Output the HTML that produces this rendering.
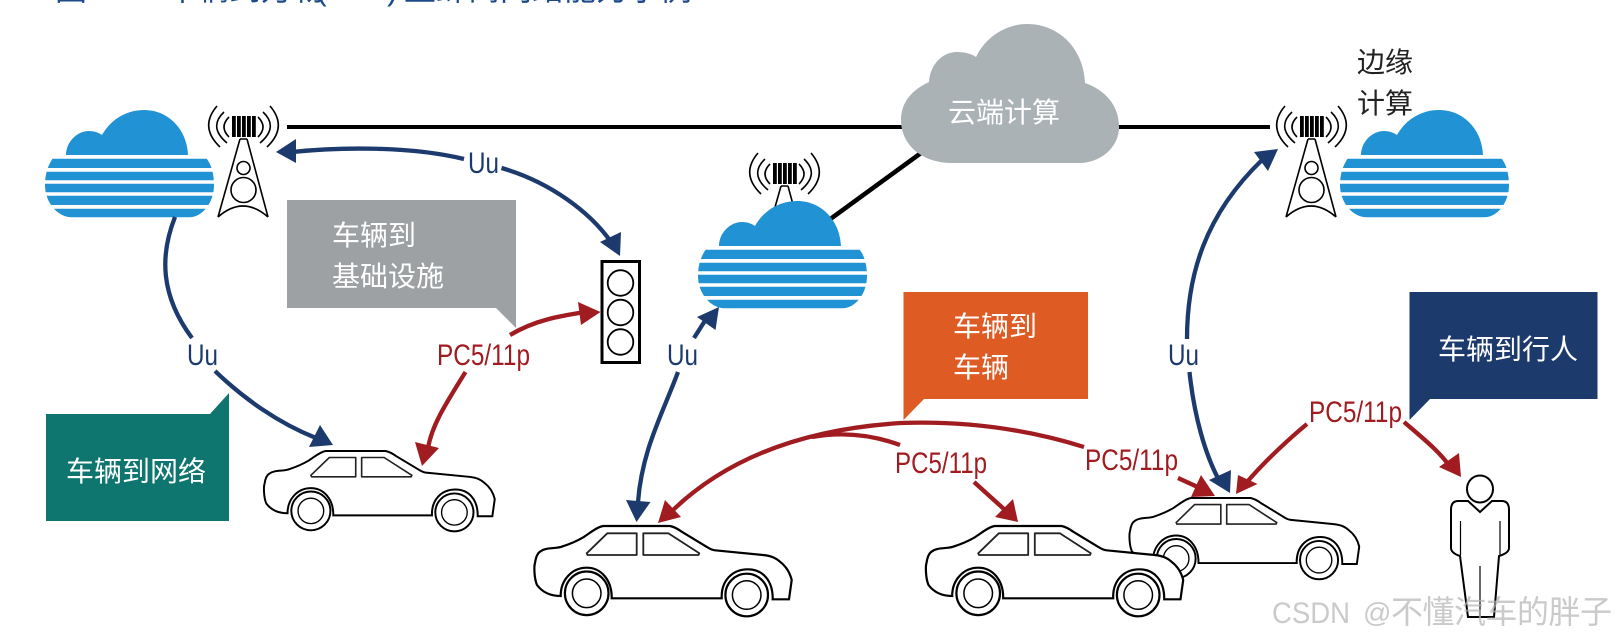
<!DOCTYPE html>
<html><head><meta charset="utf-8"><style>
html,body{margin:0;padding:0;background:#fff;width:1616px;height:640px;overflow:hidden}
svg{display:block}
text{font-family:"Liberation Sans","Noto Sans CJK SC",sans-serif}
.w{fill:#fff;font-size:28px}
.n{fill:#1c3a6e;font-size:30px}
.r{fill:#a01c20;font-size:30px}
.nl{fill:none;stroke:#1c3a6e;stroke-width:4.300}
.rl{fill:none;stroke:#a01c20;stroke-width:4.300}
.nh{fill:#1c3a6e}.rh{fill:#a01c20}
</style></head><body>
<svg width="1616" height="640" viewBox="0 0 1616 640" xmlns="http://www.w3.org/2000/svg">
<defs>
<clipPath id="st"><rect x="0" y="48.700" width="170" height="9.300"/><rect x="0" y="61.700" width="170" height="8.600"/><rect x="0" y="73.700" width="170" height="8.600"/><rect x="0" y="85.700" width="170" height="9.300"/><rect x="0" y="98.700" width="170" height="8.600"/></clipPath>
<clipPath id="upper"><rect x="700" y="140" width="170" height="67"/></clipPath>
<symbol id="cloud" overflow="visible">
<path d="M21,45C21,32 32,21 44,21C50,21 54,23 57,25C66,9 82,0 99,0C124,0 142,20 143,45Z" fill="#2192d3"/>
<path clip-path="url(#st)" d="M8,48L161,48C165,52 169,62 169,75C169,92 158,107.500 143,107.500L28,107.500C12,107.500 0,92 0,75C0,62 4,54 8,48Z" fill="#2192d3"/>
</symbol>
<symbol id="tower" overflow="visible">
<g fill="none" stroke="#000" stroke-width="1.600">
<path d="M217,106Q199,127 220,147M224,112Q208,127 227,143M229,117Q219,127 229,137"/>
<path d="M270,106Q288,127 267,147M263,112Q279,127 260,143M258,117Q268,127 258,137"/>
<path d="M240,139L218,217M247,139L268,217M240,139H247M218,217Q243,195 268,217"/>
<circle cx="243.500" cy="168" r="6.500"/><circle cx="243.500" cy="190" r="12.500"/>
</g>
<g fill="#000"><rect x="232" y="116" width="3.800" height="21"/><rect x="237" y="116" width="3.800" height="21"/><rect x="242" y="116" width="3.800" height="21"/><rect x="247" y="116" width="3.800" height="21"/><rect x="252" y="116" width="3.800" height="21"/></g>
</symbol>
<symbol id="car" overflow="visible">
<path d="M25.700,70C17,70 8,67 2,59C-1,52 -1,40 0,37C1,30 3,27 5,25.700C11,21 20,23 26.700,20.700C35,18 42,15 48.300,11.300C55,7 62,1 68.300,0L135,0C140,1 143,3 146.700,5.700L172,21C175,23 177,24 180,24.300L228,29C238,30 242,33 245,35.700C252,41 255,47 256.700,54L254,73.300L237.700,73.300C238,55 228,43.300 213,43.300C197,43.300 186,55 186.700,72.300L76.700,72.300C77,54 66,41.700 51.700,41.700C37,41.700 25.500,54 25.700,70Z" fill="#fff" stroke="#000" stroke-width="2.200"/>
<g fill="#fff" stroke="#000">
<circle cx="51.700" cy="67.300" r="21.800" stroke-width="2.200"/><circle cx="51.700" cy="67.300" r="14.300" stroke-width="1.500"/>
<circle cx="211.700" cy="69" r="21.300" stroke-width="2.200"/><circle cx="211.700" cy="69" r="14.300" stroke-width="1.500"/>
</g>
<g fill="#fff" stroke="#222" stroke-width="1.800" stroke-linejoin="round">
<path d="M51.700,27.300L72.300,7.300H101.700V29H52.500Z"/><path d="M108.300,7.300H133.300L164.300,27.300L163.500,29H108.300Z"/>
</g>
</symbol>
</defs>

<!-- title fragment -->
<text y="0" font-size="32" fill="#1c4a8a"><tspan x="55">图 1</tspan><tspan x="165">车辆到万物</tspan><tspan x="316">(V2X)</tspan><tspan x="404">型蜂窝网络能力示例</tspan></text>

<!-- backbone lines -->
<rect x="287" y="125" width="620" height="4" fill="#000"/>
<rect x="1115" y="125" width="155" height="4" fill="#000"/>
<line x1="921" y1="153" x2="829" y2="220" stroke="#000" stroke-width="4.500"/>

<!-- gray cloud -->
<path d="M952,163C922,163 901,145 901,120C901,102 912,90 929,82C930,65 942,52 957,52C965,52 972,54 976,57C985,38 1005,24 1027,24C1060,24 1084,50 1085,83C1105,90 1119,105 1119,127C1119,148 1100,163 1079,163Z" fill="#abb2b5"/>
<text class="w" x="948" y="122">云端计算</text>

<!-- towers and clouds -->
<use href="#tower" x="0" y="0"/>
<use href="#tower" x="1068" y="0"/>
<g clip-path="url(#upper)"><use href="#tower" x="541" y="47"/></g>
<use href="#cloud" x="45" y="110"/>
<use href="#cloud" x="698" y="201"/>
<use href="#cloud" x="1340" y="110"/>

<text x="1357" y="72" font-size="28" fill="#222">边缘</text>
<text x="1357" y="113" font-size="28" fill="#222">计算</text>

<!-- callouts -->
<path d="M287,200H516V328L496,308H287Z" fill="#9da1a4"/>
<text class="w" x="332" y="245">车辆到</text>
<text class="w" x="332" y="286">基础设施</text>

<path d="M46,414H210L229,393V521H46Z" fill="#0e766e"/>
<text class="w" x="66" y="481">车辆到网络</text>

<path d="M903.500,292H1088V399H924L903.500,420Z" fill="#de5b24"/>
<text class="w" x="953" y="336">车辆到</text>
<text class="w" x="953" y="377">车辆</text>

<path d="M1409.500,292H1597.500V399H1430L1409.500,420Z" fill="#1c3a6c"/>
<text class="w" x="1438" y="359">车辆到行人</text>

<!-- traffic light -->
<rect x="602" y="261.500" width="37.500" height="101" fill="#fff" stroke="#000" stroke-width="3"/>
<g fill="#fff" stroke="#000" stroke-width="1.800"><circle cx="620.500" cy="283" r="12.800"/><circle cx="620.500" cy="312.500" r="12.800"/><circle cx="620.500" cy="342" r="12.800"/></g>

<!-- cars -->
<use href="#car" transform="translate(264.500,451) scale(.897,.89)"/>
<use href="#car" x="535" y="526"/>
<use href="#car" transform="translate(1130,498) scale(.893,.9)"/>
<use href="#car" x="926.500" y="526"/>

<!-- person -->
<g fill="#fff" stroke="#000" stroke-width="2">
<ellipse cx="1480" cy="489" rx="13" ry="13.500"/>
<path d="M1468,501L1458,501Q1451,501 1451,510L1451,548Q1451,553 1460,556L1468,617L1494,617L1499,556Q1509,553 1509,548L1509,510Q1509,501 1502,501L1492,501L1480,512Z"/>
</g>
<path d="M1460.500,521V555M1500,521V555M1480,566V617" stroke="#000" stroke-width="1.200" fill="none"/>

<!-- navy arrows -->
<path class="nl" d="M292,152C340,147 410,146 464,159"/>
<path class="nl" d="M501.500,168C550,182 590,212 611,242"/>
<polygon class="nh" points="276,152 296,139 296,163"/>
<polygon class="nh" points="620,256 600,242 621,232"/>
<text class="n" x="468" y="173" textLength="31" lengthAdjust="spacingAndGlyphs">Uu</text>

<path class="nl" d="M175,217C160,255 160,295 192,338"/>
<path class="nl" d="M215,371C243,398 278,423 316,438"/>
<polygon class="nh" points="333,445 320,425 309,447"/>
<text class="n" x="187" y="365" textLength="31" lengthAdjust="spacingAndGlyphs">Uu</text>

<path class="nl" d="M678,372C662,415 642,450 638,502"/>
<polygon class="nh" points="636.500,522 626,500 650.500,502"/>
<path class="nl" d="M694,338L708,316"/>
<polygon class="nh" points="719,307 697,317 715.500,330"/>
<text class="n" x="667" y="365" textLength="31" lengthAdjust="spacingAndGlyphs">Uu</text>

<path class="nl" d="M1187,339C1187,275 1205,215 1262,160"/>
<polygon class="nh" points="1278,149 1254,152 1268,171"/>
<path class="nl" d="M1189.500,372C1194,415 1205,455 1220,482"/>
<polygon class="nh" points="1230,493 1209,480 1231,470"/>
<text class="n" x="1168" y="365" textLength="31" lengthAdjust="spacingAndGlyphs">Uu</text>

<!-- red arrows -->
<path class="rl" d="M510,335C535,320 560,316 585,312"/>
<polygon class="rh" points="600.500,312 578,302 581,325"/>
<path class="rl" d="M465.500,372C445,405 432,425 428,448"/>
<polygon class="rh" points="422,466 415,442 439,448"/>
<text class="r" x="437" y="365" textLength="93" lengthAdjust="spacingAndGlyphs">PC5/11p</text>

<path class="rl" d="M1084,447C1020,427 960,421 901,423C820,428 735,450 672,511"/>
<polygon class="rh" points="658,523 665,500 681,517"/>
<path class="rl" d="M812,437C840,432 870,434 900,445"/>
<text class="r" x="895" y="473" textLength="92" lengthAdjust="spacingAndGlyphs">PC5/11p</text>
<text class="r" x="1085" y="470" textLength="93" lengthAdjust="spacingAndGlyphs">PC5/11p</text>
<path class="rl" d="M974,482L1005,510"/>
<polygon class="rh" points="1018,522 1013,499 995,517"/>
<path class="rl" d="M1178,478L1202,489"/>
<polygon class="rh" points="1215,496 1201,475 1191,497"/>

<path class="rl" d="M1307,424C1290,438 1266,460 1247,482"/>
<polygon class="rh" points="1236,494 1238,475 1257.500,484"/>
<path class="rl" d="M1404,422C1425,440 1440,452 1451,468"/>
<polygon class="rh" points="1461,477 1459,453 1439,467"/>
<text class="r" x="1309" y="422" textLength="93" lengthAdjust="spacingAndGlyphs">PC5/11p</text>

<!-- watermark -->
<text y="623" font-size="30" fill="#b4b4b4" fill-opacity=".7"><tspan x="1272" textLength="78" lengthAdjust="spacingAndGlyphs">CSDN</tspan></text>
<text x="1363" y="622" font-size="28" fill="#b4b4b4" fill-opacity=".7">@</text>
<text x="1391" y="623" font-size="32" fill="#b4b4b4" fill-opacity=".7" textLength="221">不懂汽车的胖子</text>
</svg>
</body></html>
